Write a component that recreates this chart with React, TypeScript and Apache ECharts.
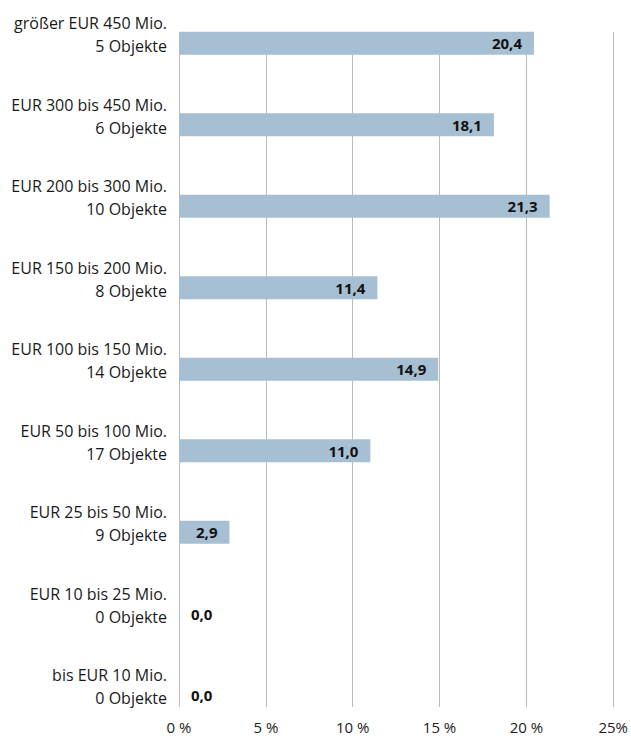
import React, { useEffect, useRef } from "react";
import * as echarts from "echarts";

const categories = [
  "größer EUR 450 Mio.\n5 Objekte",
  "EUR 300 bis 450 Mio.\n6 Objekte",
  "EUR 200 bis 300 Mio.\n10 Objekte",
  "EUR 150 bis 200 Mio.\n8 Objekte",
  "EUR 100 bis 150 Mio.\n14 Objekte",
  "EUR 50 bis 100 Mio.\n17 Objekte",
  "EUR 25 bis 50 Mio.\n9 Objekte",
  "EUR 10 bis 25 Mio.\n0 Objekte",
  "bis EUR 10 Mio.\n0 Objekte",
];
const shares = [20.4, 18.1, 21.3, 11.4, 14.9, 11.0, 2.9, 0.0, 0.0];
const xMin = 0;
const xMax = 25;
const xStep = 5;

const FONT = "'Open Sans', 'Noto Sans', sans-serif";

export default function App() {
  const ref = useRef<HTMLDivElement>(null);
  useEffect(() => {
    if (!ref.current) return;
    const chart = echarts.init(ref.current, undefined, { renderer: "svg" });
    const fmt = (v: number) => v.toFixed(1).replace(".", ",");
    chart.setOption({
      animation: false,
      backgroundColor: "#ffffff",
      textStyle: { fontFamily: FONT },
      grid: [
        { left: 179, right: 17, top: 2.45, bottom: 4.05 },
        { left: 179, right: 17, top: 32, bottom: 33 },
      ],
      xAxis: [
        {
          gridIndex: 0,
          type: "value",
          min: xMin,
          max: xMax,
          interval: xStep,
          show: false,
        },
        {
          gridIndex: 1,
          type: "value",
          min: xMin,
          max: xMax,
          interval: xStep,
          axisLine: { show: false },
          axisTick: { show: false },
          splitLine: { show: true, lineStyle: { color: "#bbbbbb", width: 1 } },
          axisLabel: {
            color: "#222",
            fontSize: 15,
            fontFamily: FONT,
            margin: 12,
            formatter: (v: number) => (v === xMax ? v + "%" : v + " %"),
          },
        },
      ],
      yAxis: [
        {
          gridIndex: 0,
          type: "category",
          data: categories,
          inverse: true,
          axisLine: { show: false },
          axisTick: { show: false },
          splitLine: { show: false },
          axisLabel: {
            color: "#1a1a1a",
            fontFamily: FONT,
            align: "right",
            margin: 12,
            formatter: (s: string) => {
              const [a, b] = s.split("\n");
              return "{t|" + a + "}\n{t|" + b + "}\n{s|}";
            },
            rich: {
              t: { fontSize: 16, lineHeight: 23, color: "#1a1a1a", fontFamily: FONT, align: "right" },
              s: { fontSize: 1, lineHeight: 17 },
            },
          },
        },
        {
          gridIndex: 1,
          type: "value",
          show: false,
        },
      ],
      series: [
        {
          type: "bar",
          xAxisIndex: 0,
          yAxisIndex: 0,
          barWidth: 23,
          z: 3,
          itemStyle: { color: "#a6bfd2" },
          data: shares.map((v) => ({
            value: v,
            label: {
              show: true,
              position: v === 0 ? "insideLeft" : "insideRight",
              distance: 12,
              color: "#111",
              fontWeight: "bold",
              fontSize: 15,
              fontFamily: FONT,
              formatter: () => fmt(v),
            },
          })),
        },
      ],
    });
    return () => chart.dispose();
  }, []);
  return (
    <div
      ref={ref}
      style={{ position: "absolute", left: 0, top: 0, width: 631, height: 740 }}
    />
  );
}
